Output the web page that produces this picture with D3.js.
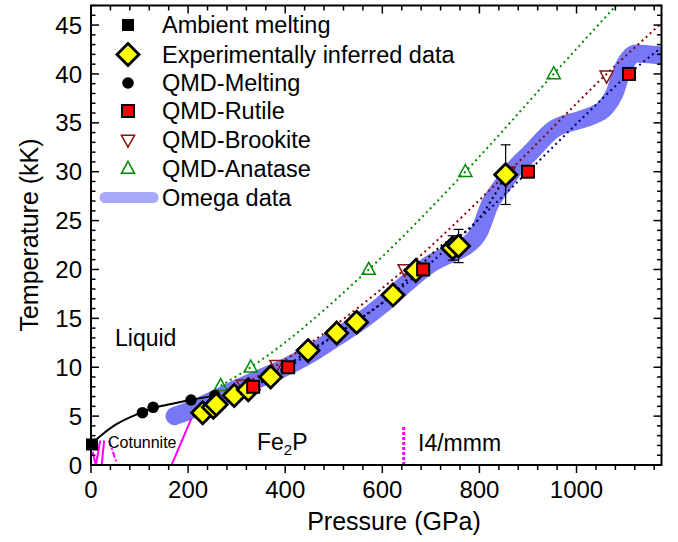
<!DOCTYPE html>
<html>
<head>
<meta charset="utf-8">
<script src="https://cdn.jsdelivr.net/npm/d3@7"></script>
<style>
  html, body { margin: 0; padding: 0; background: #fff; }
  svg { display: block; font-family: "Liberation Sans", Arial, sans-serif; }
</style>
</head>
<body>
<svg id="chart" width="678" height="542"></svg>
<script>
// ---------------- data ----------------
const xTicks = [0, 200, 400, 600, 800, 1000];
const yTicks = [0, 5, 10, 15, 20, 25, 30, 35, 40, 45];

const ambientP = [0];
const ambientT = [2.1];

const expP   = [230, 252, 258, 295, 324, 370, 447, 506, 547, 622, 669, 745, 757, 854];
const expT   = [5.35, 5.9, 6.2, 7.1, 7.7, 9.0, 11.7, 13.5, 14.6, 17.4, 19.9, 22.2, 22.4, 29.7];
const expErr = [0, 0, 0, 0, 0, 0, 0, 0, 0, 0, 0, 1.25, 1.7, 3.05];

const qmdMeltP = [106, 128, 206, 255];
const qmdMeltT = [5.35, 5.9, 6.65, 7.1];

const rutileP = [334, 406, 684, 900, 1108];
const rutileT = [8, 10, 20, 30, 40];

const brookiteP = [313, 382, 646, 860, 1062];
const brookiteT = [8.2, 10.2, 20, 30, 39.8];

const anataseP = [267, 329, 572, 771, 953];
const anataseT = [8.1, 10, 20, 30, 40];

// melting curve (solid black)
const meltCurveP = [0, 20, 50, 100, 130, 170, 210, 255];
const meltCurveT = [2.1, 3.0, 4.1, 5.3, 5.85, 6.3, 6.7, 7.1];

// dotted fits
const fitExpP = [210, 260, 300, 370, 450, 510, 550, 620, 669, 718, 791, 855];
const fitExpT = [5.0, 6.3, 7.3, 9.1, 11.7, 13.5, 14.8, 17.4, 19.9, 22.3, 24.7, 29.7];
const fitRutP = [300, 334, 406, 500, 600, 684, 800, 900, 1000, 1108, 1172];
const fitRutT = [7.2, 8, 10, 13.2, 16.6, 20, 25.2, 30, 34.9, 40, 42.6];
const fitBrkP = [313, 382, 646, 860, 1062, 1175];
const fitBrkT = [8.2, 10.2, 20, 30, 40, 45.2];
const fitAnaP = [267, 329, 572, 771, 953, 1085];
const fitAnaT = [8.1, 10, 20, 30, 40, 47.2];

// Omega data band
const omegaP = [172, 200, 250, 300, 350, 400, 450, 500, 550, 600, 650, 700, 740, 770, 800, 821, 850, 870, 904, 952, 1007, 1030, 1060, 1078, 1096, 1123, 1150, 1172];
const omegaT = [5.0, 5.5, 6.6, 7.8, 8.9, 10.0, 11.3, 12.9, 14.5, 16.4, 18.6, 20.6, 21.6, 22.3, 23.9, 26.6, 28.8, 30.2, 31.9, 34.3, 35.3, 35.7, 36.6, 38.0, 40.6, 42.1, 42.0, 41.9];

// phase boundaries (magenta)
const phaseA_P = [3, 10, 19];   const phaseA_T = [1.35, 0, 2.5];
const phaseB_P = [22, 27];      const phaseB_T = [0, 2.5];
const phaseC_P = [37, 53];      const phaseC_T = [2.5, 0.2];
const phaseD_P = [166, 207];    const phaseD_T = [0, 4.8];
const phaseE_P = [644, 644];    const phaseE_T = [0, 4.1];

const legendLabels = ["Ambient melting", "Experimentally inferred data", "QMD-Melting", "QMD-Rutile", "QMD-Brookite", "QMD-Anatase", "Omega data"];

// ---------------- layout ----------------
const svg = d3.select("#chart");
const L = 91, R = 661.5, T = 5.5, B = 465;
const x = d3.scaleLinear().domain([0, 1175]).range([L, R]);
const y = d3.scaleLinear().domain([0, 47]).range([B, T]);

const zip = (a, b) => a.map((v, i) => [v, b[i]]);

svg.append("defs").append("clipPath").attr("id", "plotclip")
  .append("rect").attr("x", L).attr("y", T).attr("width", R - L).attr("height", B - T);

const plot = svg.append("g").attr("clip-path", "url(#plotclip)");

const lineGen = d3.line().x(d => x(d[0])).y(d => y(d[1]));
const smooth = d3.line().x(d => x(d[0])).y(d => y(d[1])).curve(d3.curveMonotoneX);

// Omega band
plot.append("path").datum(zip(omegaP, omegaT))
  .attr("d", smooth)
  .attr("fill", "none").attr("stroke", "#7878f6").attr("stroke-width", 18)
  .attr("stroke-linecap", "round").attr("stroke-linejoin", "round");

// phase lines
const mag = "#ff00ff";
[[phaseA_P, phaseA_T], [phaseB_P, phaseB_T], [phaseD_P, phaseD_T]].forEach(([p, t]) => {
  plot.append("path").datum(zip(p, t)).attr("d", lineGen)
    .attr("fill", "none").attr("stroke", mag).attr("stroke-width", 2);
});
plot.append("path").datum(zip(phaseC_P, phaseC_T)).attr("d", lineGen)
  .attr("fill", "none").attr("stroke", mag).attr("stroke-width", 2).attr("stroke-dasharray", "6,2,2,2");
plot.append("path").datum(zip(phaseE_P, phaseE_T)).attr("d", lineGen)
  .attr("fill", "none").attr("stroke", mag).attr("stroke-width", 3).attr("stroke-dasharray", "3,2");

// melting curve
plot.append("path").datum(zip(meltCurveP, meltCurveT)).attr("d", smooth)
  .attr("fill", "none").attr("stroke", "#000").attr("stroke-width", 2);

// dotted fits
const dotted = (p, t, col) => plot.append("path").datum(zip(p, t)).attr("d", smooth)
  .attr("fill", "none").attr("stroke", col).attr("stroke-width", 2)
  .attr("stroke-dasharray", "2,3.5");
dotted(fitAnaP, fitAnaT, "#008a00");
dotted(fitBrkP, fitBrkT, "#8b0000");
dotted(fitExpP, fitExpT, "#000000");
dotted(fitRutP, fitRutT, "#000066");

// markers
const g = svg.append("g");
const triUp = (cx, cy, s) => `M${cx},${cy - s * 0.6}L${cx + s * 0.55},${cy + s * 0.4}L${cx - s * 0.55},${cy + s * 0.4}Z`;
const triDown = (cx, cy, s) => `M${cx},${cy + s * 0.6}L${cx + s * 0.55},${cy - s * 0.4}L${cx - s * 0.55},${cy - s * 0.4}Z`;
const diamond = (cx, cy, h) => `M${cx},${cy - h}L${cx + h},${cy}L${cx},${cy + h}L${cx - h},${cy}Z`;

function drawAnatase(gg, cx, cy) {
  gg.append("path").attr("d", triUp(cx, cy, 12)).attr("fill", "none").attr("stroke", "#008a00").attr("stroke-width", 1.5);
}
function drawBrookite(gg, cx, cy) {
  gg.append("path").attr("d", triDown(cx, cy, 12)).attr("fill", "none").attr("stroke", "#8b1010").attr("stroke-width", 1.5);
}
function drawRutile(gg, cx, cy) {
  gg.append("rect").attr("x", cx - 6).attr("y", cy - 6).attr("width", 12).attr("height", 12)
    .attr("fill", "#ff0000").attr("stroke", "#000").attr("stroke-width", 2);
}
function drawExp(gg, cx, cy) {
  gg.append("path").attr("d", diamond(cx, cy, 11)).attr("fill", "#ffff00").attr("stroke", "#000").attr("stroke-width", 2.8)
    .attr("stroke-linejoin", "miter");
}
function drawCircle(gg, cx, cy) {
  gg.append("circle").attr("cx", cx).attr("cy", cy).attr("r", 5.8).attr("fill", "#000");
}
function drawAmbient(gg, cx, cy) {
  gg.append("rect").attr("x", cx - 6).attr("y", cy - 6).attr("width", 12).attr("height", 12).attr("fill", "#000");
}

anataseP.forEach((p, i) => drawAnatase(g, x(p), y(anataseT[i])));
brookiteP.forEach((p, i) => drawBrookite(g, x(p), y(brookiteT[i])));
qmdMeltP.forEach((p, i) => drawCircle(g, x(p), y(qmdMeltT[i])));

// error bars
expP.forEach((p, i) => {
  const e = expErr[i];
  if (!e) return;
  const cx = x(p), y1 = y(expT[i] + e), y2 = y(expT[i] - e);
  g.append("line").attr("x1", cx).attr("x2", cx).attr("y1", y1).attr("y2", y2).attr("stroke", "#000").attr("stroke-width", 1.2);
  [y1, y2].forEach(yy => g.append("line").attr("x1", cx - 5).attr("x2", cx + 5).attr("y1", yy).attr("y2", yy).attr("stroke", "#000").attr("stroke-width", 1.2));
});
expP.forEach((p, i) => drawExp(g, x(p), y(expT[i])));
rutileP.forEach((p, i) => drawRutile(g, x(p), y(rutileT[i])));
ambientP.forEach((p, i) => drawAmbient(g, x(p) + 1, y(ambientT[i])));

// ---------------- axes ----------------
const ax = svg.append("g").attr("font-size", 24).attr("fill", "#000");
svg.append("rect").attr("x", L).attr("y", T).attr("width", R - L).attr("height", B - T)
  .attr("fill", "none").attr("stroke", "#000").attr("stroke-width", 2);

const xMinor = d3.range(0, 1176, 40);
const yMinor = d3.range(0, 47.01, 1);
const tk = svg.append("g").attr("stroke", "#000").attr("stroke-width", 1.5);
xMinor.forEach(v => {
  const major = xTicks.includes(v);
  const len = major ? 8 : 5;
  tk.append("line").attr("x1", x(v)).attr("x2", x(v)).attr("y1", B).attr("y2", B + len);
  tk.append("line").attr("x1", x(v)).attr("x2", x(v)).attr("y1", T).attr("y2", T + len);
});
yMinor.forEach(v => {
  const major = v % 5 === 0;
  const len = major ? 8 : 4.5;
  tk.append("line").attr("x1", L).attr("x2", L + len).attr("y1", y(v)).attr("y2", y(v));
  tk.append("line").attr("x1", R).attr("x2", R - len).attr("y1", y(v)).attr("y2", y(v));
});
xTicks.forEach(v => ax.append("text").attr("x", x(v)).attr("y", 498).attr("text-anchor", "middle").text(v));
yTicks.forEach(v => ax.append("text").attr("x", 82).attr("y", y(v)).attr("dy", "0.36em").attr("text-anchor", "end").text(v));

svg.append("text").attr("x", 394).attr("y", 530).attr("text-anchor", "middle").attr("font-size", 25).text("Pressure (GPa)");
svg.append("text").attr("transform", "translate(38,235) rotate(-90)").attr("text-anchor", "middle").attr("font-size", 25).text("Temperature (kK)");

// region labels
svg.append("text").attr("x", 115).attr("y", 346).attr("font-size", 23).text("Liquid");
svg.append("text").attr("x", 108).attr("y", 448).attr("font-size", 16).text("Cotunnite");
const fe = svg.append("text").attr("x", 257).attr("y", 450).attr("font-size", 23);
fe.append("tspan").text("Fe");
fe.append("tspan").attr("font-size", 15).attr("dy", 5).text("2");
fe.append("tspan").attr("dy", -5).text("P");
svg.append("text").attr("x", 418).attr("y", 451).attr("font-size", 23).text("I4/mmm");

// ---------------- legend ----------------
const legY = [25, 54.5, 83, 111, 140, 168.5, 197.5];
const lg = svg.append("g");
const sx = 128;
drawAmbient(lg, sx, legY[0]);
drawExp(lg, sx, legY[1]);
drawCircle(lg, sx, legY[2]);
drawRutile(lg, sx, legY[3]);
drawBrookite(lg, sx, legY[4]);
drawAnatase(lg, sx, legY[5]);
lg.append("line").attr("x1", 105).attr("x2", 153).attr("y1", legY[6]).attr("y2", legY[6])
  .attr("stroke", "#a8a8f8").attr("stroke-width", 11).attr("stroke-linecap", "round");
legendLabels.forEach((t, i) => lg.append("text").attr("x", 162).attr("y", legY[i]).attr("dy", "0.36em")
  .attr("font-size", 23.5).text(t));
</script>
</body>
</html>
